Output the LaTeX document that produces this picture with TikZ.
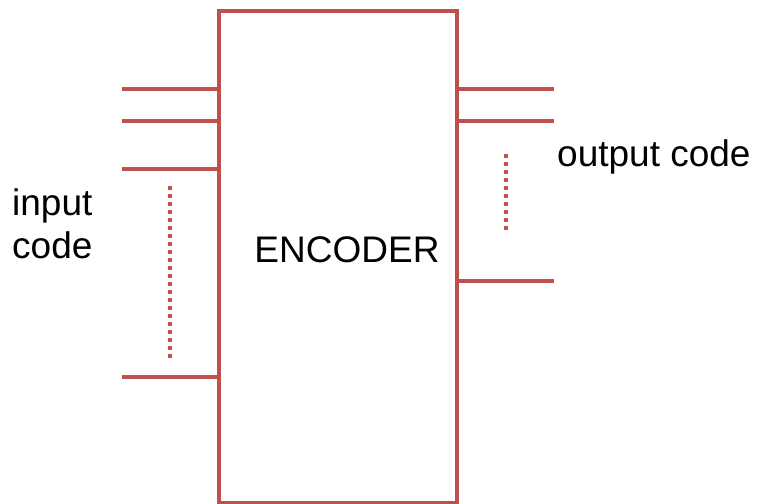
\documentclass[tikz,border=0pt]{standalone}
\usepackage{fontspec}
\setmainfont{Liberation Sans}
\definecolor{encred}{HTML}{C0504D}

\begin{document}
\begin{tikzpicture}[x=1pt,y=-1pt,
    wire/.style={draw=encred, line width=4pt},
    dots/.style={draw=encred, line width=3.6pt, dash pattern=on 4pt off 4pt},
    lbl/.style={font=\fontsize{37}{43}\selectfont, inner sep=0pt}]
    \useasboundingbox (0,0) rectangle (757,503);
    \pgfmathsetmacro{\xl}{219}
    \pgfmathsetmacro{\xr}{457}

    \draw [wire] (\xl,503)--(\xl,11)--(\xr,11)--(\xr,503)--cycle;
    \node[lbl] (enc) at (347,250) {ENCODER};

    % inputs
    \foreach \y [count=\i] in {89,121,169,377} {
        \coordinate (in\i) at (122,\y);
        \coordinate (ie\i) at (\xl,\y);
        \draw [wire] (in\i)--(ie\i);
    }
    \coordinate (ia) at (170,186);
    \coordinate (ib) at (170,358);
    \draw [dots] (ia)--(ib);
    \node[lbl, align=left, anchor=west] (incode) at (12,224) {input\\code};

    % outputs
    \foreach \y [count=\i] in {89,121,281} {
        \coordinate (oe\i) at (\xr,\y);
        \coordinate (out\i) at (554,\y);
        \draw [wire] (oe\i)--(out\i);
    }
    \coordinate (oa) at (506,154);
    \coordinate (ob) at (506,230);
    \draw [dots] (oa)--(ob);
    \node[lbl, anchor=west] (outcode) at (557,157) {output code};
\end{tikzpicture}
\end{document}
